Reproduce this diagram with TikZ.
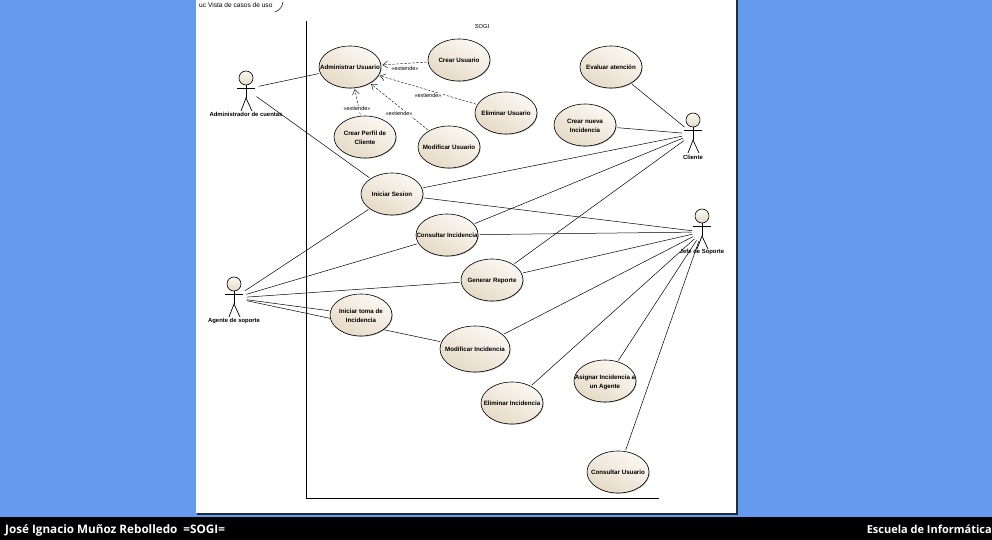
\documentclass[tikz,border=0pt]{standalone}
\usepackage{fontspec}
\setmainfont{Liberation Sans}
\newfontfamily\footfont{Open Sans}
\usetikzlibrary{shapes.geometric,arrows.meta,backgrounds,shadows}
\definecolor{pageblue}{HTML}{659BEF}
\definecolor{ucdark}{HTML}{E6DAC6}
\definecolor{uclight}{HTML}{FBF8F3}
\definecolor{edgedark}{HTML}{1E2C40}
\newcommand\uctxt[1]{\smash{\makebox[0pt]{\raisebox{-2.4pt}{\begin{tabular}{@{}c@{}}#1\end{tabular}}}}}
\newcommand\actorfig[2]{%
  \begin{scope}[shift={(#1,#2)}]
    \draw[actline] (0,0) -- (0,14);
    \draw[actline] (-9,4) -- (9,4);
    \draw[actline] (-5,27) -- (0,14) -- (6,27);
    \node[actorhead] at (0,-6) {};
  \end{scope}}
\tikzset{
  uc/.style={ellipse,draw=black,line width=0.6pt,inner sep=0pt,
    minimum width=62pt,minimum height=42pt,align=center,
    top color=uclight,bottom color=ucdark,shading angle=-30,
    font=\fontsize{6.2}{9}\selectfont\bfseries,
    drop shadow={shadow xshift=0.7pt,shadow yshift=-0.7pt,fill=gray,opacity=.6},
    outer sep=1.5pt},
  ucbig/.style={uc,minimum width=70pt,minimum height=46pt},
  actorhead/.style={circle,draw=black,line width=0.6pt,minimum size=14pt,inner sep=0pt,
    top color=uclight,bottom color=ucdark},
  actline/.style={draw=black,line width=0.7pt},
  hub/.style={circle,minimum size=#1,inner sep=0pt,outer sep=0pt},
  actlabel/.style={font=\fontsize{5.9}{7}\selectfont\bfseries,inner sep=0.5pt},
  assoc/.style={draw=black,line width=0.5pt},
  ext/.style={draw=black,line width=0.4pt,dashed,dash pattern=on 2.5pt off 1.5pt,
    -{Straight Barb[length=5pt,width=7pt]}},
  extlabel/.style={font=\fontsize{5.5}{7}\selectfont,fill=white,inner sep=0.6pt},
  foot/.style={font=\footfont\fontsize{11}{13}\selectfont\bfseries,text=white,inner sep=0pt},
  footleft/.style={font=\footfont\fontsize{11.7}{13}\selectfont\bfseries,text=white,inner sep=0pt},
}
\begin{document}
\begin{tikzpicture}[x=1pt,y=-1pt]
\useasboundingbox (0,0) rectangle (992,540);
\begin{scope}[on background layer]
  \fill[pageblue] (0,0) rectangle (992,540);
  \fill[edgedark] (197,0) rectangle (737.5,514.5);
  \fill[white] (196,0) rectangle (736,513);
  \fill[black] (0,517) rectangle (992,540);
\end{scope}

% frame
\coordinate (bl) at (306,498);
\coordinate (tl) at (306,21);
\coordinate (br) at (659,498);
\draw[black,line width=0.8pt] (tl) -- (bl) -- (br);
\node[font=\fontsize{6.6}{8}\selectfont,inner sep=0pt,anchor=west] (diagtitle) at (199,5.5) {uc Vista de casos de uso};
\coordinate (ta) at (275,12);
\coordinate (tb) at (283,2);
\draw[black,line width=0.5pt] (ta) .. controls (280,10) and (282,7) .. (tb);
\node[font=\fontsize{5.8}{7}\selectfont,inner sep=0pt] (sysname) at (482,27) {SOGI};

% use cases
\node[uc] (admin) at (350,67) {\uctxt{Administrar Usuario}};
\node[uc] (crearu) at (459,60) {\uctxt{Crear Usuario}};
\node[uc] (elimu) at (506,113) {\uctxt{Eliminar Usuario}};
\node[uc] (modu) at (449,147) {\uctxt{Modificar Usuario}};
\node[uc] (perfil) at (365,137) {\uctxt{Crear Perfil de\\Cliente}};
\node[uc] (sesion) at (392,194) {\uctxt{Iniciar Sesion}};
\node[uc] (consi) at (447,235) {\uctxt{Consultar Incidencia}};
\node[uc] (gener) at (492,280) {\uctxt{Generar Reporte}};
\node[uc] (toma) at (361,315) {\uctxt{Iniciar toma de\\Incidencia}};
\node[ucbig] (modi) at (475,349) {\uctxt{Modificar Incidencia}};
\node[uc] (elimi) at (512,403) {\uctxt{Eliminar Incidencia}};
\node[uc] (asig) at (605,381) {\uctxt{Asignar Incidencia a\\un Agente}};
\node[uc] (consu) at (618,472) {\uctxt{Consultar Usuario}};
\node[uc] (eval) at (611,67) {\uctxt{Evaluar atención}};
\node[uc] (nueva) at (585,125) {\uctxt{Crear nueva\\Incidencia}};

% actors
\actorfig{246}{84}
\actorfig{693}{126}
\actorfig{702}{222}
\actorfig{234}{290}
\node[hub=26pt] (hadmin) at (246,89) {};
\node[hub=22pt] (hcli) at (693,134) {};
\node[hub=20pt] (hjefe) at (702,232) {};
\node[hub=26pt] (hag) at (234,298) {};
\node[actlabel] (ladmin) at (246,114.5) {Administrador de cuentas};
\node[actlabel] (lcli) at (693,157) {Cliente};
\node[actlabel] (ljefe) at (702,252) {Jefe de Soporte};
\node[actlabel] (lag) at (234,320.5) {Agente de soporte};

\begin{scope}[on background layer]
  \draw[assoc] (hadmin) -- (admin);
  \draw[assoc] (hadmin) -- (sesion);
  \draw[assoc] (hcli) -- (eval);
  \draw[assoc] (hcli) -- (nueva);
  \draw[assoc] (hcli) -- (sesion);
  \draw[assoc] (hcli) -- (consi);
  \draw[assoc] (hcli) -- (gener);
  \draw[assoc] (hjefe) -- (sesion);
  \draw[assoc] (hjefe) -- (consi);
  \draw[assoc] (hjefe) -- (gener);
  \draw[assoc] (hjefe) -- (modi);
  \draw[assoc] (hjefe) -- (elimi);
  \draw[assoc] (hjefe) -- (asig);
  \draw[assoc] (hjefe) -- (consu);
  \draw[assoc] (hag) -- (sesion);
  \draw[assoc] (hag) -- (consi);
  \draw[assoc] (hag) -- (gener);
  \draw[assoc] (hag) -- (toma);
  \draw[assoc] (hag) -- (modi);
\end{scope}

% extend relations
\draw[ext] (crearu) -- (admin);
\draw[ext] (elimu) -- (admin);
\draw[ext] (modu) -- (admin);
\draw[ext] (perfil) -- (admin);
\node[extlabel] (e1) at (405,69) {«extiende»};
\node[extlabel] (e2) at (428,96) {«extiende»};
\node[extlabel] (e3) at (399,114) {«extiende»};
\node[extlabel] (e4) at (357,109) {«extiende»};

% footer
\node[footleft,anchor=base west] (fl) at (5,533) {José Ignacio Muñoz Rebolledo\hspace{3pt} =SOGI=};
\node[foot,anchor=base east] (fr) at (992,533) {Escuela de Informática};
\end{tikzpicture}
\end{document}
